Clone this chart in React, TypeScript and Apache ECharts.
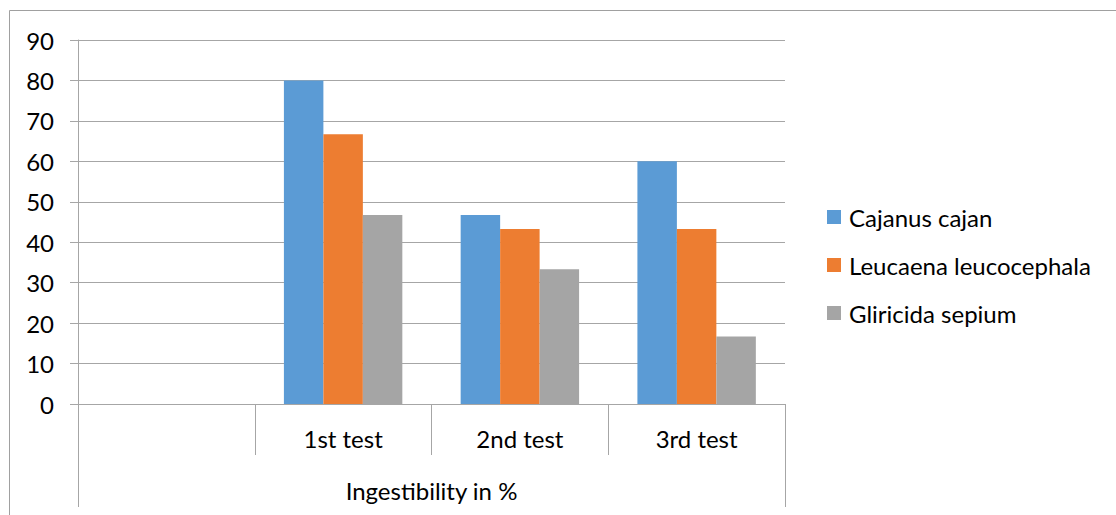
import React, { useEffect, useRef } from "react";
import * as echarts from "echarts";

const categories = ["", "1st test", "2nd test", "3rd test"];
const groupLabel = ["Ingestibility in %"];
const seriesNames = ["Cajanus cajan", "Leucaena leucocephala", "Gliricida sepium"];
const cajanus = [null, 80, 46.7, 60];
const leucaena = [null, 66.7, 43.3, 43.3];
const gliricida = [null, 46.7, 33.3, 16.7];
const colors = ["#5b9bd5", "#ed7d31", "#a5a5a5"];

const FONT = "Lato";
const FS = 24;
const LINE = "#a6a6a6";

export default function App() {
  const ref = useRef<HTMLDivElement>(null);
  useEffect(() => {
    const chart = echarts.init(ref.current!, null, { renderer: "svg" });
    const data = [cajanus, leucaena, gliricida];
    chart.setOption({
      animation: false,
      color: colors,
      textStyle: { fontFamily: FONT },
      graphic: [
        {
          type: "rect",
          shape: { x: 9.5, y: 10.5, width: 1300, height: 700 },
          style: { fill: "none", stroke: "#a0a0a0", lineWidth: 1 },
          silent: true,
        },
      ],
      legend: {
        orient: "vertical",
        left: 827,
        top: 205,
        padding: 0,
        itemWidth: 14,
        itemHeight: 14,
        itemGap: 24,
        icon: "rect",
        textStyle: { fontFamily: FONT, fontSize: FS, color: "#000", padding: [0, 0, 0, 3] },
        data: seriesNames,
      },
      grid: { left: 78, top: 40, right: 331, bottom: 111, containLabel: false },
      xAxis: [
        {
          type: "category",
          data: categories,
          position: "bottom",
          axisLine: { show: true, lineStyle: { color: LINE, width: 1 } },
          axisTick: { show: true, interval: 0, length: 51, lineStyle: { color: LINE } },
          axisLabel: { interval: 0, margin: 22, fontFamily: FONT, fontSize: FS, color: "#000" },
          splitLine: { show: false },
        },
        {
          type: "category",
          data: groupLabel,
          position: "bottom",
          offset: 51,
          axisLine: { show: false },
          axisTick: { show: true, interval: 0, length: 52, lineStyle: { color: LINE } },
          axisLabel: { interval: 0, margin: 23, fontFamily: FONT, fontSize: FS, color: "#000" },
          splitLine: { show: false },
        },
      ],
      yAxis: {
        type: "value",
        min: 0,
        max: 90,
        interval: 10,
        axisLine: { show: true, lineStyle: { color: LINE } },
        axisTick: { show: true, length: 8, lineStyle: { color: LINE } },
        axisLabel: { margin: 24, fontFamily: FONT, fontSize: FS, color: "#000" },
        splitLine: { show: true, lineStyle: { color: LINE, width: 1 } },
      },
      series: seriesNames.map((name, i) => ({
        name,
        type: "bar",
        xAxisIndex: 0,
        data: data[i],
        barGap: "0%",
        barCategoryGap: "33%",
        itemStyle: { color: colors[i] },
      })),
    });
    return () => chart.dispose();
  }, []);
  return (
    <div
      ref={ref}
      style={{ position: "absolute", left: 0, top: 0, width: 1116, height: 515, background: "#fff" }}
    />
  );
}
